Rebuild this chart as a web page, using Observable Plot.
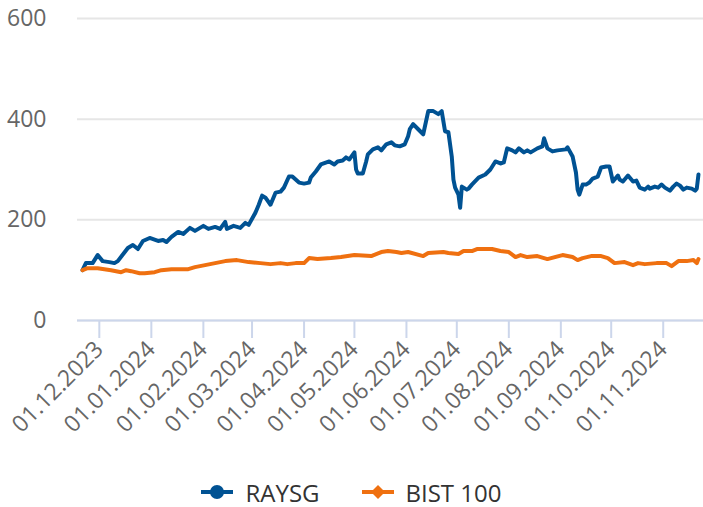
<!DOCTYPE html>
<html><head><meta charset="utf-8">
<script src="https://cdn.jsdelivr.net/npm/d3@7"></script>
<script src="https://cdn.jsdelivr.net/npm/@observablehq/plot@0.6"></script>
<style>
body{margin:0;background:#fff;font-family:"Open Sans",sans-serif;}
#legend{display:flex;justify-content:center;align-items:center;height:74px;gap:42px;font-size:24px;color:#333;width:703px;}
.item{display:flex;align-items:center;gap:12px;}
</style></head><body>
<div id="chart"></div>
<div id="legend"></div>
<script>
const raysgDates = ["2023-11-21","2023-11-23","2023-11-27","2023-11-30","2023-12-03","2023-12-07","2023-12-10","2023-12-12","2023-12-18","2023-12-21","2023-12-24","2023-12-27","2023-12-31","2024-01-05","2024-01-08","2024-01-10","2024-01-13","2024-01-17","2024-01-20","2024-01-24","2024-01-27","2024-02-01","2024-02-04","2024-02-08","2024-02-11","2024-02-14","2024-02-15","2024-02-19","2024-02-23","2024-02-26","2024-02-28","2024-03-02","2024-03-03","2024-03-05","2024-03-07","2024-03-09","2024-03-12","2024-03-15","2024-03-18","2024-03-20","2024-03-23","2024-03-25","2024-03-29","2024-04-01","2024-04-04","2024-04-05","2024-04-08","2024-04-11","2024-04-16","2024-04-19","2024-04-21","2024-04-24","2024-04-26","2024-04-28","2024-05-01","2024-05-02","2024-05-03","2024-05-06","2024-05-08","2024-05-09","2024-05-12","2024-05-15","2024-05-17","2024-05-20","2024-05-23","2024-05-25","2024-05-28","2024-05-31","2024-06-02","2024-06-03","2024-06-05","2024-06-08","2024-06-11","2024-06-14","2024-06-17","2024-06-20","2024-06-22","2024-06-24","2024-06-26","2024-06-28","2024-06-29","2024-06-30","2024-07-02","2024-07-03","2024-07-04","2024-07-07","2024-07-08","2024-07-10","2024-07-14","2024-07-18","2024-07-21","2024-07-24","2024-07-27","2024-07-29","2024-07-31","2024-08-03","2024-08-05","2024-08-07","2024-08-10","2024-08-12","2024-08-14","2024-08-18","2024-08-21","2024-08-22","2024-08-24","2024-08-27","2024-08-30","2024-09-04","2024-09-05","2024-09-08","2024-09-10","2024-09-11","2024-09-12","2024-09-14","2024-09-16","2024-09-18","2024-09-20","2024-09-23","2024-09-25","2024-09-28","2024-09-30","2024-10-02","2024-10-05","2024-10-06","2024-10-08","2024-10-11","2024-10-14","2024-10-16","2024-10-18","2024-10-21","2024-10-23","2024-10-24","2024-10-27","2024-10-29","2024-10-31","2024-11-02","2024-11-05","2024-11-07","2024-11-09","2024-11-11","2024-11-13","2024-11-15","2024-11-18","2024-11-20","2024-11-21","2024-11-22"];
const raysgValues = [100,114,114,130,118,116,114,118,144,150,142,158,164,158,160,156,166,176,172,184,178,188,182,186,182,196,182,188,184,194,190,208,214,230,248,244,230,254,256,264,286,286,274,272,274,284,296,310,316,310,316,318,324,320,334,300,292,292,316,330,340,344,338,350,354,348,346,350,366,380,390,380,370,416,416,410,416,376,374,326,280,264,250,224,266,260,262,270,284,290,300,316,312,314,342,338,334,342,334,338,334,342,346,362,342,336,338,340,344,326,294,260,250,270,270,274,282,286,304,306,306,276,288,280,276,288,276,278,264,260,266,262,266,264,270,264,258,266,272,268,260,264,262,258,262,290];

const bistDates = ["2023-11-21","2023-11-24","2023-11-30","2023-12-04","2023-12-08","2023-12-14","2023-12-17","2023-12-20","2023-12-25","2023-12-28","2024-01-03","2024-01-07","2024-01-13","2024-01-23","2024-01-27","2024-02-02","2024-02-08","2024-02-14","2024-02-21","2024-02-28","2024-03-06","2024-03-12","2024-03-18","2024-03-22","2024-03-27","2024-04-01","2024-04-04","2024-04-09","2024-04-17","2024-04-23","2024-05-01","2024-05-11","2024-05-17","2024-05-21","2024-05-26","2024-05-29","2024-06-02","2024-06-11","2024-06-14","2024-06-23","2024-06-26","2024-07-02","2024-07-05","2024-07-10","2024-07-13","2024-07-22","2024-07-27","2024-08-01","2024-08-05","2024-08-08","2024-08-12","2024-08-18","2024-08-24","2024-09-02","2024-09-08","2024-09-11","2024-09-14","2024-09-19","2024-09-25","2024-09-29","2024-10-03","2024-10-09","2024-10-14","2024-10-17","2024-10-21","2024-10-28","2024-11-03","2024-11-06","2024-11-10","2024-11-15","2024-11-19","2024-11-21","2024-11-22"];
const bistValues = [100,104,104,102,100,96,100,98,94,94,96,100,102,102,106,110,114,118,120,116,114,112,114,112,114,114,124,122,124,126,130,128,136,138,136,134,136,128,134,136,134,132,138,138,142,142,138,136,126,130,126,128,122,130,126,120,124,128,128,124,114,116,110,114,112,114,114,108,118,118,120,114,122];

const tickDates = ["2023-12-01","2024-01-01","2024-02-01","2024-03-01","2024-04-01","2024-05-01","2024-06-01","2024-07-01","2024-08-01","2024-09-01","2024-10-01","2024-11-01"];
const yTicks = [0,200,400,600];
const seriesNames = ["RAYSG","BIST 100"];
const seriesColors = ["#005293","#ef7010"];

const parse = d3.utcParse("%Y-%m-%d");
const data = [
  ...raysgDates.map((d,i)=>({date:parse(d), value:raysgValues[i], series:seriesNames[0]})),
  ...bistDates.map((d,i)=>({date:parse(d), value:bistValues[i], series:seriesNames[1]}))
];

const plot = Plot.plot({
  width:703, height:455,
  marginLeft:77, marginRight:0, marginTop:18, marginBottom:135,
  style:{fontFamily:'"Open Sans", sans-serif', fontSize:"23px", color:"#666", background:"#fff", overflow:"visible"},
  x:{type:"utc", domain:[parse("2023-11-18"), parse("2024-11-25")]},
  y:{domain:[0,600]},
  color:{domain:seriesNames, range:seriesColors},
  marks:[
    Plot.gridY(yTicks,{stroke:"#e6e6e6", strokeOpacity:1, strokeWidth:2}),
    Plot.axisY(yTicks,{tickSize:0, tickPadding:31, label:null, fill:"#666"}),
    Plot.ruleY([0],{stroke:"#ccd6eb", strokeWidth:2}),
    Plot.axisX(tickDates.map(parse),{tickSize:18, stroke:"#ccd6eb", strokeWidth:2, strokeOpacity:1, tickRotate:-45, tickFormat:d3.utcFormat("%d.%m.%Y"), label:null, fill:"#666", tickPadding:7}),
    Plot.line(data,{x:"date", y:"value", z:"series", stroke:"series", strokeWidth:4})
  ]
});
document.getElementById("chart").appendChild(plot);

const legend = document.getElementById("legend");
seriesNames.forEach((name,i)=>{
  const c = seriesColors[i];
  const sym = i===0
    ? `<circle cx="16" cy="8" r="7" fill="${c}"/>`
    : `<path d="M16 1 L23 8 L16 15 L9 8 Z" fill="${c}"/>`;
  const item = document.createElement("div");
  item.className = "item";
  item.innerHTML = `<svg width="32" height="16"><line x1="0" x2="32" y1="8" y2="8" stroke="${c}" stroke-width="4"/>${sym}</svg><span>${name}</span>`;
  legend.appendChild(item);
});
</script>
</body></html>
